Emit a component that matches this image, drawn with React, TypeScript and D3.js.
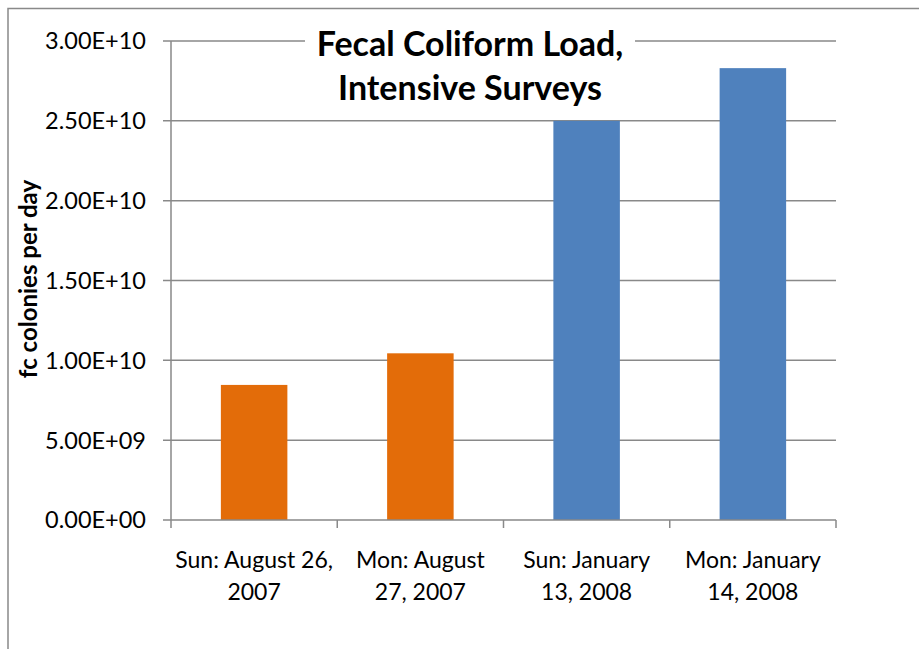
import React from "react";
import * as d3 from "d3";

const categories: string[][] = [
  ["Sun: August 26,", "2007"],
  ["Mon: August", "27, 2007"],
  ["Sun: January", "13, 2008"],
  ["Mon: January", "14, 2008"],
];
const values: number[] = [8.46e9, 1.044e10, 2.5e10, 2.83e10];
const barColors: string[] = ["#E36C09", "#E36C09", "#4F81BD", "#4F81BD"];
const yTicks: number[] = [0, 5e9, 1e10, 1.5e10, 2e10, 2.5e10, 3e10];
const titleLines: string[] = ["Fecal Coliform Load,", "Intensive Surveys"];
const yTitle = "fc colonies per day";

const W = 919;
const H = 649;
const plot = { left: 171, right: 836, top: 41, bottom: 520 };
const axisColor = "#898989";
const font = "Lato, 'Open Sans', sans-serif";

function fmt(v: number): string {
  const s = v.toExponential(2).toUpperCase();
  const [m, e] = s.split("E");
  const sign = e[0];
  const digits = e.slice(1).padStart(2, "0");
  return `${m}E${sign}${digits}`;
}

export default function App() {
  const keys = categories.map((c) => c.join(" "));
  const x = d3
    .scaleBand<string>()
    .domain(keys)
    .range([plot.left, plot.right])
    .paddingInner(0.6)
    .paddingOuter(0.3);
  const y = d3.scaleLinear().domain([0, 3e10]).range([plot.bottom, plot.top]);
  const step = x.step();
  const boundaries = d3.range(keys.length + 1).map((i) => plot.left + i * step);

  return (
    <svg
      width={W}
      height={H}
      style={{ position: "absolute", left: 0, top: 0, background: "#fff" }}
    >
      <rect x={0} y={0} width={W} height={H} fill="#fff" />
      <rect
        x={8}
        y={8.5}
        width={940}
        height={680}
        fill="#fff"
        stroke={axisColor}
        strokeWidth={1.5}
      />
      {/* gridlines */}
      {yTicks.map((t) => (
        <line
          key={"g" + t}
          x1={plot.left - 8}
          x2={t === 0 ? plot.left : plot.right}
          y1={y(t)}
          y2={y(t)}
          stroke={axisColor}
          strokeWidth={1.5}
        />
      ))}
      {/* bars */}
      {values.map((v, i) => (
        <rect
          key={"b" + i}
          x={x(keys[i])}
          y={y(v)}
          width={x.bandwidth()}
          height={plot.bottom - y(v)}
          fill={barColors[i]}
        />
      ))}
      {/* axes */}
      <line
        x1={plot.left}
        x2={plot.left}
        y1={plot.top}
        y2={plot.bottom}
        stroke={axisColor}
        strokeWidth={1.5}
      />
      <line
        x1={plot.left}
        x2={plot.right}
        y1={plot.bottom}
        y2={plot.bottom}
        stroke={axisColor}
        strokeWidth={1.5}
      />
      {boundaries.map((bx, i) => (
        <line
          key={"xt" + i}
          x1={bx}
          x2={bx}
          y1={plot.bottom}
          y2={plot.bottom + 8}
          stroke={axisColor}
          strokeWidth={1.5}
        />
      ))}
      {/* y tick labels */}
      {yTicks.map((t) => (
        <text
          key={"yl" + t}
          x={146}
          y={y(t)}
          dy="0.36em"
          textAnchor="end"
          fontFamily={font}
          fontSize={23.5}
          fill="#000"
        >
          {fmt(t)}
        </text>
      ))}
      {/* x labels */}
      {categories.map((c, i) => (
        <text
          key={"xl" + i}
          textAnchor="middle"
          fontFamily={font}
          fontSize={23}
          fill="#000"
        >
          {c.map((line, j) => (
            <tspan key={j} x={(x(keys[i]) as number) + x.bandwidth() / 2} y={568 + j * 32}>
              {line}
            </tspan>
          ))}
        </text>
      ))}
      {/* y title */}
      <text
        transform={`translate(37, 279) rotate(-90)`}
        textAnchor="middle"
        fontFamily={font}
        fontWeight="bold"
        fontSize={24}
        fill="#000"
      >
        {yTitle}
      </text>
      {/* title */}
      <rect x={305} y={20} width={330} height={97} fill="#fff" />
      {titleLines.map((l, i) => (
        <text
          key={"t" + i}
          x={470}
          y={56 + i * 44}
          textAnchor="middle"
          fontFamily={font}
          fontWeight="bold"
          fontSize={34}
          fill="#000"
        >
          {l}
        </text>
      ))}
    </svg>
  );
}
